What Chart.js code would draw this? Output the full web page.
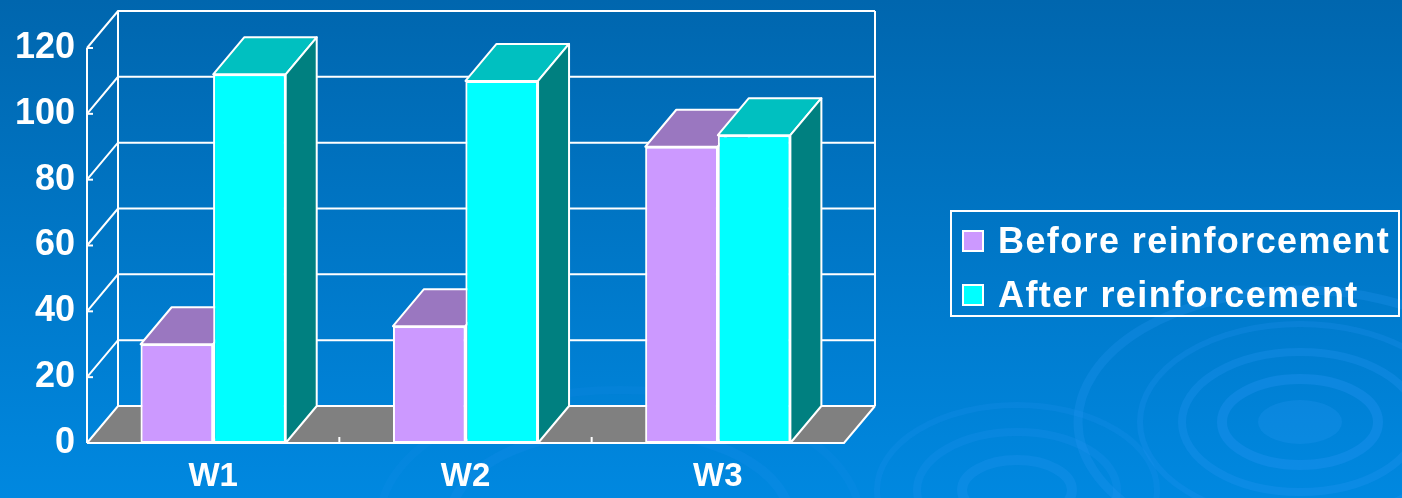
<!DOCTYPE html>
<html>
<head>
<meta charset="utf-8">
<title>Before / after reinforcement</title>
<script src="https://cdn.jsdelivr.net/npm/chart.js@4.4.1/dist/chart.umd.min.js"></script>
<style>
  html, body { margin: 0; padding: 0; background: #0070c4; overflow: hidden; }
  #wrap { position: relative; width: 1402px; height: 498px; }
  #legend {
    position: absolute; left: 950px; top: 210px; width: 446px; height: 103px;
    border: 2px solid #ffffff;
    font-family: 'Liberation Sans', Arial, sans-serif; font-weight: bold;
    font-size: 36px; letter-spacing: 1.4px; color: #ffffff;
  }
  #legend .item { display: flex; align-items: center; height: 44px; line-height: 44px; white-space: nowrap; }
  #legend .item:first-child { margin-top: 7px; }
  #legend .item + .item { margin-top: 10px; }
  #legend .swatch {
    display: inline-block; box-sizing: border-box; width: 22px; height: 22px;
    border: 2px solid #ffffff; margin-left: 10px; margin-right: 14px;
  }
</style>
</head>
<body>
<div id="wrap">
  <canvas id="chart"></canvas>
  <div id="legend"></div>
</div>
<script>
// Chart data
var categories = ['W1', 'W2', 'W3'];
var seriesNames = ['Before reinforcement', 'After reinforcement'];
var beforeValues = [30, 35.5, 90];
var afterValues = [112, 110, 93.5];
var yTicks = [0, 20, 40, 60, 80, 100, 120];

// Look of the 3D box
var DX = 31, DY = 37;          // depth offset of the back wall
var EDGE = '#ffffff';
var FLOOR = '#808080';
var FONT = "'Liberation Sans', Arial, sans-serif";
var frontColors = ['#cc99ff', '#00ffff'];
var topColors = ['#9a77c0', '#00c0c0'];
var sideColors = ['#7a5c99', '#008080'];

function poly(c, pts, fill) {
    c.beginPath();
    c.moveTo(pts[0][0], pts[0][1]);
    for (var i = 1; i < pts.length; i++) c.lineTo(pts[i][0], pts[i][1]);
    c.closePath();
    if (fill) { c.fillStyle = fill; c.fill(); }
    c.stroke();
}

function line(c, pts) {
    c.beginPath();
    c.moveTo(pts[0][0], pts[0][1]);
    for (var i = 1; i < pts.length; i++) c.lineTo(pts[i][0], pts[i][1]);
    c.stroke();
}

function ellipseRing(c, cx, cy, rx, ry, width, alpha) {
    c.lineWidth = width;
    c.strokeStyle = 'rgba(40, 150, 245, ' + alpha + ')';
    c.beginPath();
    c.ellipse(cx, cy, rx, ry, 0, 0, Math.PI * 2);
    c.stroke();
}

// Blue slide background with faint ripples
var backdrop = {
    id: 'backdrop',
    beforeDraw: function (chart) {
        var c = chart.ctx, w = chart.width, h = chart.height;
        c.save();
        var g = c.createLinearGradient(0, 0, 0, h);
        g.addColorStop(0, '#0066ae');
        g.addColorStop(1, '#0088e0');
        c.fillStyle = g;
        c.fillRect(0, 0, w, h);

        c.fillStyle = 'rgba(40, 150, 245, 0.25)';
        c.beginPath();
        c.ellipse(1300, 422, 42, 22, 0, 0, Math.PI * 2);
        c.fill();
        ellipseRing(c, 1300, 422, 78, 43, 10, 0.32);
        ellipseRing(c, 1300, 422, 118, 70, 8, 0.28);
        ellipseRing(c, 1300, 422, 160, 98, 6, 0.22);
        ellipseRing(c, 1300, 422, 222, 132, 9, 0.25);
        ellipseRing(c, 1017, 490, 55, 30, 10, 0.25);
        ellipseRing(c, 1017, 490, 100, 58, 8, 0.2);
        ellipseRing(c, 1017, 490, 140, 85, 6, 0.18);
        ellipseRing(c, 620, 520, 170, 90, 10, 0.14);
        ellipseRing(c, 620, 520, 240, 130, 8, 0.1);
        c.restore();
    }
};

// Floor, side wall and back wall, then the top and side faces of every bar
var frame3d = {
    id: 'frame3d',
    beforeDatasetsDraw: function (chart) {
        var c = chart.ctx, a = chart.chartArea;
        var ys = chart.scales.y, xs = chart.scales.x;
        var left = a.left, right = a.right;
        var base = ys.getPixelForValue(yTicks[0]);
        var top = ys.getPixelForValue(yTicks[yTicks.length - 1]);

        c.save();
        c.lineWidth = 2;
        c.strokeStyle = EDGE;

        // floor
        c.fillStyle = FLOOR;
        c.beginPath();
        c.moveTo(left, base);
        c.lineTo(right, base);
        c.lineTo(right + DX, base - DY);
        c.lineTo(left + DX, base - DY);
        c.closePath();
        c.fill();

        // gridlines running along the side wall and across the back wall
        yTicks.forEach(function (v) {
            var py = ys.getPixelForValue(v);
            line(c, [[left, py], [left + DX, py - DY], [right + DX, py - DY]]);
            line(c, [[left, py], [left + 6, py]]);
        });

        // wall edges and front axis
        line(c, [[left + DX, base - DY], [left + DX, top - DY]]);
        line(c, [[right + DX, base - DY], [right + DX, top - DY]]);
        line(c, [[left, base], [left, top]]);
        line(c, [[left, base], [right, base], [right + DX, base - DY]]);

        // category separators on the front edge of the floor
        for (var i = 1; i < categories.length; i++) {
            var px = (xs.getPixelForValue(i - 1) + xs.getPixelForValue(i)) / 2;
            line(c, [[px, base], [px, base - 6]]);
        }
        c.restore();
    },
    afterDatasetsDraw: function (chart) {
        var c = chart.ctx;
        c.save();
        c.lineWidth = 2;
        c.strokeStyle = EDGE;
        c.lineJoin = 'round';
        chart.data.datasets.forEach(function (ds, di) {
            var meta = chart.getDatasetMeta(di);
            meta.data.forEach(function (bar) {
                // front face again so it covers the previous series' side face
                bar.draw(c);
                var p = bar.getProps(['x', 'y', 'base', 'width'], true);
                var x0 = p.x - p.width / 2, x1 = p.x + p.width / 2;
                poly(c, [[x0, p.y], [x1, p.y], [x1 + DX, p.y - DY], [x0 + DX, p.y - DY]], topColors[di]);
                poly(c, [[x1, p.y], [x1 + DX, p.y - DY], [x1 + DX, p.base - DY], [x1, p.base]], sideColors[di]);
            });
        });
        c.restore();
    }
};

// Legend as HTML, built from the datasets
var htmlLegend = {
    id: 'htmlLegend',
    afterUpdate: function (chart) {
        var box = document.getElementById('legend');
        box.innerHTML = '';
        chart.data.datasets.forEach(function (ds) {
            var row = document.createElement('div');
            row.className = 'item';
            var swatch = document.createElement('span');
            swatch.className = 'swatch';
            swatch.style.background = ds.backgroundColor;
            var text = document.createElement('span');
            text.textContent = ds.label;
            row.appendChild(swatch);
            row.appendChild(text);
            box.appendChild(row);
        });
    }
};

new Chart(document.getElementById('chart'), {
    type: 'bar',
    data: {
        labels: categories,
        datasets: [{
            label: seriesNames[0],
            data: beforeValues,
            backgroundColor: frontColors[0],
            borderColor: EDGE,
            borderWidth: 2,
            borderSkipped: false
        }, {
            label: seriesNames[1],
            data: afterValues,
            backgroundColor: frontColors[1],
            borderColor: EDGE,
            borderWidth: 2,
            borderSkipped: false
        }]
    },
    options: {
        responsive: true,
        maintainAspectRatio: false,
        animation: false,
        categoryPercentage: 0.575,
        barPercentage: 1,
        layout: {
            padding: { left: 0, right: 558, top: 48, bottom: 0 }
        },
        plugins: {
            legend: { display: false },
            tooltip: { enabled: false }
        },
        scales: {
            x: {
                grid: { display: false, drawTicks: false },
                border: { display: false },
                ticks: {
                    color: '#ffffff',
                    padding: 14,
                    font: { family: FONT, size: 33, weight: 'bold' }
                },
                afterFit: function (s) { s.height = 55; }
            },
            y: {
                min: yTicks[0],
                max: yTicks[yTicks.length - 1],
                grid: { display: false, drawTicks: false },
                border: { display: false },
                ticks: {
                    color: '#ffffff',
                    padding: 12,
                    font: { family: FONT, size: 36, weight: 'bold' }
                },
                afterBuildTicks: function (s) {
                    s.ticks = yTicks.map(function (v) { return { value: v }; });
                },
                afterFit: function (s) { s.width = 87; }
            }
        }
    },
    plugins: [backdrop, frame3d, htmlLegend]
});
</script>
</body>
</html>
